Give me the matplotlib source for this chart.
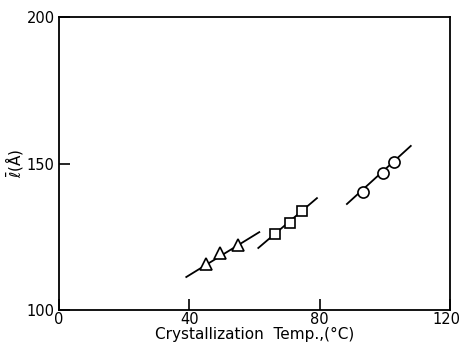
import matplotlib
matplotlib.use("Agg")
import matplotlib.pyplot as plt
import matplotlib.transforms as mtrans

# Data
tri_x = [45.0, 49.5, 55.0]
tri_y = [115.7, 119.5, 122.2]
tri_line_x = [39.1, 61.5]
tri_line_y = [111.3, 126.6]

sq_x = [66.4, 71.0, 74.6]
sq_y = [125.9, 129.7, 133.8]
sq_line_x = [61.2, 79.2]
sq_line_y = [121.2, 138.2]

ci_x = [93.3, 99.4, 102.8]
ci_y = [140.3, 146.8, 150.5]
ci_line_x = [88.4, 108.0]
ci_line_y = [136.2, 156.0]

xticks = [0, 40, 80, 120]
yticks = [100, 150, 200]

fig = plt.figure(figsize=(4.6, 3.45), dpi=100)
ax = fig.add_axes([0.128, 0.101, 0.850, 0.850])

for lx, ly in [(tri_line_x, tri_line_y), (sq_line_x, sq_line_y), (ci_line_x, ci_line_y)]:
    ax.plot(lx, ly, color='black', lw=1.3, zorder=2)

ax.plot(tri_x, tri_y, linestyle='none', marker='^', ms=8, mfc='white', mec='black', mew=1.2, zorder=3)
ax.plot(sq_x, sq_y, linestyle='none', marker='s', ms=7, mfc='white', mec='black', mew=1.2, zorder=3)
ax.plot(ci_x, ci_y, linestyle='none', marker='o', ms=8, mfc='white', mec='black', mew=1.2, zorder=3)

ax.set_xlim(0, 120)
ax.set_ylim(100, 200)
ax.set_xticks(xticks)
ax.set_yticks(yticks)
ax.tick_params(direction='in', length=8, width=1.2, labelsize=10.5)
ax.tick_params(axis='x', pad=1)
ax.tick_params(axis='y', pad=3)
for s in ax.spines.values():
    s.set_linewidth(1.3)

ax.set_xlabel('Crystallization  Temp.,(°C)', fontsize=11, labelpad=0)
ax.set_ylabel(r'$\bar{\ell}$(Å)', fontsize=11, labelpad=1)

fig.canvas.draw()
lab = ax.get_xticklabels()[-1]
lab.set_transform(lab.get_transform() + mtrans.ScaledTranslation(-3/100, 0, fig.dpi_scale_trans))

fig.savefig('out.png', dpi=100)
